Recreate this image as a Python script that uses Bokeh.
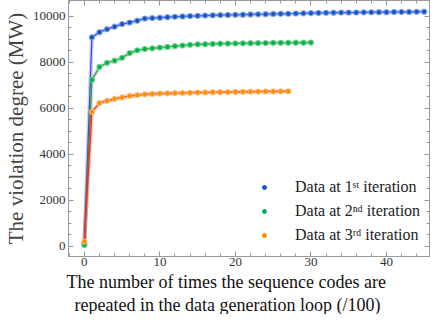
from bokeh.plotting import figure
from bokeh.models import Range1d, LinearAxis, Legend, LegendItem, FixedTicker, Title
from bokeh.embed import file_html
from bokeh.resources import INLINE

# ---- data ----
x_blue = list(range(0, 46))
y_blue = [120, 9080, 9300, 9430, 9540, 9650, 9720, 9800, 9890, 9910, 9930, 9950,
          9970, 9985, 10000, 10010, 10020, 10030, 10040, 10045, 10055, 10060, 10070,
          10075, 10080, 10090, 10095, 10100, 10110, 10120, 10130, 10135, 10140, 10145,
          10150, 10150, 10155, 10160, 10165, 10170, 10170, 10175, 10180, 10180, 10185, 10190]
x_green = list(range(0, 31))
y_green = [60, 7230, 7790, 7970, 8060, 8190, 8390, 8510, 8570, 8600, 8630, 8660, 8690,
           8720, 8750, 8770, 8780, 8790, 8800, 8805, 8810, 8815, 8820, 8825, 8830, 8835,
           8840, 8840, 8845, 8845, 8850]
x_orange = list(range(0, 28))
y_orange = [200, 5840, 6220, 6320, 6400, 6470, 6530, 6570, 6600, 6620, 6635, 6645, 6655,
            6660, 6670, 6680, 6685, 6690, 6695, 6700, 6705, 6710, 6715, 6720, 6725, 6725,
            6730, 6735]
labels = ["Data at 1\u02e2\u1d57 iteration", "Data at 2\u207f\u1d48 iteration", "Data at 3\u02b3\u1d48 iteration"]
x_ticks = [0, 10, 20, 30, 40]
y_ticks = [0, 2000, 4000, 6000, 8000, 10000]
x_title_lines = ["The number of times the sequence codes are",
                 "repeated in the data generation loop (/100)"]
y_title = "The violation degree (MW)"

FONT = "Liberation Serif"

p = figure(width=430, height=314, output_backend="svg", toolbar_location=None,
           x_range=Range1d(-2.1, 45.7), y_range=Range1d(-441, 10675),
           min_border_left=60, min_border_right=1, min_border_top=0, min_border_bottom=0)
p.xgrid.visible = False
p.ygrid.visible = False
p.outline_line_color = "#999999"
p.outline_line_width = 1

series = [
    (x_blue, y_blue, "#3a3aff", "#1452c0", "#6f9de0"),
    (x_green, y_green, "#2a9a3a", "#00b04a", "#66d08a"),
    (x_orange, y_orange, "#ff2a1a", "#ff8c00", "#ffbb66"),
]
legend_renderers = []
nan = float("nan")
for xs, ys, lc, pc, hc in series:
    p.line(xs, ys, line_color=lc, line_width=4, line_alpha=0.25)
    p.line(xs, ys, line_color=lc, line_width=1.2)
    p.scatter(xs, ys, size=5, fill_color=pc, line_color=hc, line_width=1.2, line_alpha=0.8)
    # legend-only marker (small dot, no data point drawn)
    legend_renderers.append(p.scatter([nan], [nan], size=4, fill_color=pc, line_color=pc))

def style_axis(ax, show_labels):
    ax.axis_line_color = "#999999"
    ax.major_tick_line_color = "#999999"
    ax.minor_tick_line_color = "#999999"
    ax.major_tick_in = 5
    ax.major_tick_out = 0
    ax.minor_tick_in = 3
    ax.minor_tick_out = 0
    ax.major_label_text_font = FONT
    ax.major_label_text_font_size = "13px"
    ax.major_label_text_color = "#333333"
    if not show_labels:
        ax.major_label_overrides = {t: "" for t in ax.ticker.ticks}
        ax.major_label_standoff = 0

xaxis = p.xaxis[0]
yaxis = p.yaxis[0]
xaxis.ticker = FixedTicker(ticks=x_ticks, minor_ticks=list(range(-2, 47, 2)))
yaxis.ticker = FixedTicker(ticks=y_ticks, minor_ticks=list(range(0, 10500, 500)))
style_axis(xaxis, True)
style_axis(yaxis, True)
xaxis.major_label_standoff = 1
yaxis.major_label_standoff = 3

yaxis.axis_label = y_title
yaxis.axis_label_text_font = FONT
yaxis.axis_label_text_font_size = "21px"
yaxis.axis_label_text_font_style = "normal"
yaxis.axis_label_standoff = 2

top = LinearAxis(ticker=FixedTicker(ticks=x_ticks, minor_ticks=list(range(-2, 47, 2))))
style_axis(top, False)
p.add_layout(top, "above")
right = LinearAxis(ticker=FixedTicker(ticks=y_ticks, minor_ticks=list(range(0, 10500, 500))))
style_axis(right, False)
p.add_layout(right, "right")

for line_text, off, so in zip(x_title_lines, [-2, 6], [2, 0]):
    t = Title(text=line_text, align="left", offset=off, text_font=FONT, text_font_size="18px",
              text_font_style="normal", text_color="#111111", standoff=so)
    p.add_layout(t, "below")

legend = Legend(items=[LegendItem(label=labels[i], renderers=[legend_renderers[i]]) for i in range(3)],
                location=(191, 12), border_line_alpha=0, background_fill_alpha=0,
                label_text_font=FONT, label_text_font_size="16px", label_text_color="#222222",
                glyph_width=10, glyph_height=10, label_height=19, spacing=5,
                label_standoff=26, padding=0, margin=0)
p.add_layout(legend, "center")

open("out.html", "w").write(file_html(p, INLINE))
